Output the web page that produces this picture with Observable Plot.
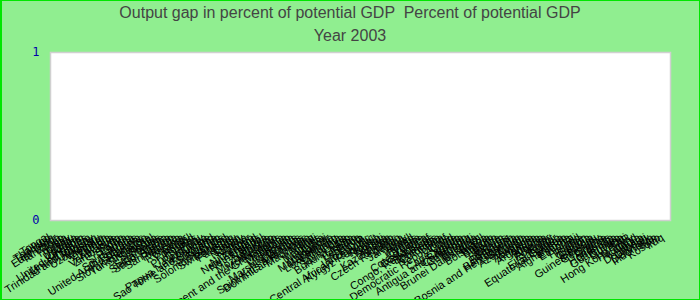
<!DOCTYPE html>
<html>
<head>
<meta charset="utf-8">
<script src="https://cdn.jsdelivr.net/npm/d3@7"></script>
<script src="https://cdn.jsdelivr.net/npm/@observablehq/plot@0.6"></script>
<style>
  html, body { margin: 0; padding: 0; background: #90ee90; }
  #wrap { position: relative; width: 700px; height: 300px; background: #90ee90; overflow: hidden; }
  #border { position: absolute; left: 0; top: 0; width: 700px; height: 300px; box-sizing: border-box; border: 1px solid #00e600; border-left-width: 2px; pointer-events: none; }
  .ttl { position: absolute; left: 0; width: 700px; text-align: center; font-family: Arial, "Liberation Sans", sans-serif; font-size: 16px; line-height: 16px; color: #444444; white-space: pre; }
  #chart { position: absolute; left: 0; top: 0; }
</style>
</head>
<body>
<div id="wrap">
  <div id="chart"></div>
  <div class="ttl" id="title" style="top:5px"></div>
  <div class="ttl" id="subtitle" style="top:28px"></div>
  <div id="border"></div>
</div>
<script>
const titleText = "Output gap in percent of potential GDP  Percent of potential GDP";
const subtitleText = "Year 2003";

const countries = [
  "Tonga","Thailand","Tajikistan","East Timor","Tanzania","Togo","Tunisia","Turkey","Tuvalu","Uganda",
  "Ukraine","United Kingdom","United States","Trinidad and Tobago","Uruguay","Uzbekistan","Vanuatu","Vietnam","Yemen","Zambia",
  "Venezuela","Zimbabwe","Syria","Sudan","Sri Lanka","Spain","South Africa","United Arab Emirates","Slovenia","Slovak Republic",
  "Turkmenistan","Singapore","Senegal","Serbia","Seychelles","Sierra Leone","Saudi Arabia","Samoa","San Marino","Rwanda",
  "Russia","Romania","Qatar","Portugal","Poland","Philippines","Peru","Paraguay","Papua New Guinea","Sao Tome and Principe",
  "Swaziland","Suriname","Sweden","Solomon Islands","Switzerland","Panama","Pakistan","Palau","Oman","Norway",
  "Nigeria","Niger","Nicaragua","New Zealand","Netherlands","Nepal","Namibia","Mozambique","Morocco","Montenegro",
  "Saint Vincent and the Grenadines","Mongolia","Moldova","Mexico","Micronesia","Marshall Islands","Mauritius","Saint Kitts and Nevis","Dominican Republic","Mauritania",
  "Malta","Mali","Maldives","Malaysia","Malawi","Madagascar","Macedonia","Luxembourg","Lithuania","Libya",
  "Saint Lucia","Burkina Faso","Liberia","Lesotho","Lebanon","Latvia","Lao P.D.R.","Central African Republic","Kyrgyz Republic","Kuwait",
  "Korea","Kiribati","Kenya","Kazakhstan","Jordan","Czech Republic","Japan","Jamaica","Italy","Israel",
  "Ireland","Cyprus","Croatia","Cote d'Ivoire","Costa Rica","Congo, Republic of","Bahamas","Comoros","Colombia","China",
  "Congo, Democratic Republic of","Chile","Chad","Cape Verde","Canada","Antigua and Barbuda","Cameroon","Cambodia","Burundi","Bulgaria",
  "Brunei Darussalam","Brazil","Botswana","Bolivia","Bhutan","Benin","Belize","Belgium","Belarus","Barbados",
  "Bangladesh","Bosnia and Herzegovina","Bahrain","Azerbaijan","Austria","Australia","Armenia","Argentina","Angola","Algeria",
  "Albania","Ecuador","Egypt","El Salvador","Equatorial Guinea","Eritrea","Afghanistan","Estonia","Ethiopia","Fiji",
  "Finland","France","Gabon","Gambia","Georgia","Guinea-Bissau","Germany","Ghana","Greece","Honduras",
  "Grenada","Guatemala","Guinea","Guyana","Haiti","Hong Kong SAR","Hungary","Iceland","India","Dominica",
  "Djibouti","Denmark","Indonesia","Iran","Kosovo","Iraq"
];

// Output gap values for 2003: none are drawn in the reference (all empty)
const values = [
  null,null,null,null,null,null,null,null,null,null,
  null,null,null,null,null,null,null,null,null,null,
  null,null,null,null,null,null,null,null,null,null,
  null,null,null,null,null,null,null,null,null,null,
  null,null,null,null,null,null,null,null,null,null,
  null,null,null,null,null,null,null,null,null,null,
  null,null,null,null,null,null,null,null,null,null,
  null,null,null,null,null,null,null,null,null,null,
  null,null,null,null,null,null,null,null,null,null,
  null,null,null,null,null,null,null,null,null,null,
  null,null,null,null,null,null,null,null,null,null,
  null,null,null,null,null,null,null,null,null,null,
  null,null,null,null,null,null,null,null,null,null,
  null,null,null,null,null,null,null,null,null,null,
  null,null,null,null,null,null,null,null,null,null,
  null,null,null,null,null,null,null,null,null,null,
  null,null,null,null,null,null,null,null,null,null,
  null,null,null,null,null,null,null,null,null,null,
  null,null,null,null,null,null
];

const yTicks = [0, 1];

document.getElementById("title").textContent = titleText;
document.getElementById("subtitle").textContent = subtitleText;

const data = countries.map((c, i) => ({country: c, value: values[i]}));

const chart = Plot.plot({
  width: 700,
  height: 300,
  marginTop: 52,
  marginBottom: 80,
  marginLeft: 50,
  marginRight: 30,
  style: {background: "transparent", fontFamily: "Arial, 'Liberation Sans', sans-serif", fontSize: "11px", color: "black", overflow: "visible"},
  x: {type: "band", domain: countries, padding: 0.1, label: null, axis: null},
  y: {domain: [0, 1], label: null},
  marks: [
    Plot.frame({fill: "white", stroke: "#d0d0d0", strokeWidth: 1.5}),
    Plot.barY(data.filter(d => d.value != null), {x: "country", y: "value", fill: "steelblue"}),
    Plot.axisY({ticks: yTicks, tickFormat: d => String(d), tickSize: 0, tickPadding: 11, fill: "#0000aa", fontFamily: "'DejaVu Sans Mono', monospace", fontSize: 12, label: null}),
    Plot.text(countries, {x: d => d, text: d => d, frameAnchor: "bottom", rotate: -33, textAnchor: "end", lineAnchor: "middle", dx: -6, dy: 16, fill: "black", fontSize: 11})
  ]
});
document.getElementById("chart").appendChild(chart);
</script>
</body>
</html>
